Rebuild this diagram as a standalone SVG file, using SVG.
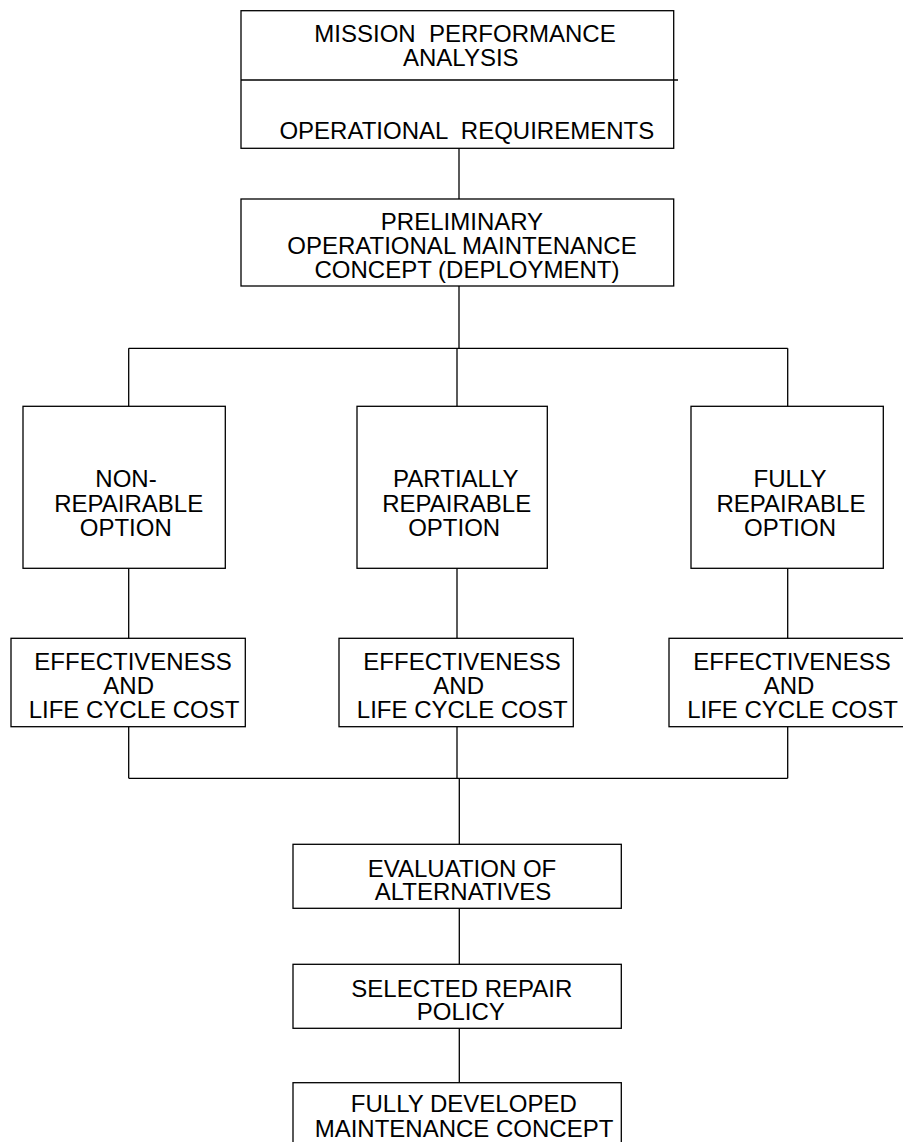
<svg xmlns="http://www.w3.org/2000/svg" width="903" height="1142" viewBox="0 0 903 1142">
<style>
rect.box{fill:#fff;stroke:#000;stroke-width:1.3}
.conn line{stroke:#000;stroke-width:1.3}
text{font-family:"Liberation Sans",Arial,sans-serif;font-size:24px;fill:#000;text-anchor:middle}
</style>
<rect width="903" height="1142" fill="#fff"/>
<g class="conn" id="connectors">
<line x1="459" y1="148.3" x2="459" y2="199"/>
<line x1="459" y1="286" x2="459" y2="348.3"/>
<line x1="128.7" y1="348.3" x2="787.7" y2="348.3"/>
<line x1="128.7" y1="348.3" x2="128.7" y2="406.3"/>
<line x1="457" y1="348.3" x2="457" y2="406.3"/>
<line x1="787.7" y1="348.3" x2="787.7" y2="406.3"/>
<line x1="128.7" y1="568.3" x2="128.7" y2="638.3"/>
<line x1="457" y1="568.3" x2="457" y2="638.3"/>
<line x1="787.7" y1="568.3" x2="787.7" y2="638.3"/>
<line x1="128.7" y1="726.7" x2="128.7" y2="778.3"/>
<line x1="457" y1="726.7" x2="457" y2="778.3"/>
<line x1="787.7" y1="726.7" x2="787.7" y2="778.3"/>
<line x1="128.7" y1="778.3" x2="787.7" y2="778.3"/>
<line x1="459.3" y1="778.3" x2="459.3" y2="844.3"/>
<line x1="459.3" y1="908.3" x2="459.3" y2="964.3"/>
<line x1="459.3" y1="1028.3" x2="459.3" y2="1082.7"/>
</g>
<g id="mission">
<rect class="box" x="241" y="10.7" width="432.7" height="137.6"/>
<line x1="241" y1="80" x2="678" y2="80" stroke="#000" stroke-width="1.3"/>
<text x="465" y="41.7" xml:space="preserve">MISSION  PERFORMANCE</text>
<text x="460.8" y="65.7">ANALYSIS</text>
<text x="466.8" y="139.3" xml:space="preserve">OPERATIONAL  REQUIREMENTS</text>
</g>
<g id="preliminary">
<rect class="box" x="241" y="199" width="432.7" height="87"/>
<text x="462" y="230">PRELIMINARY</text>
<text x="462" y="254">OPERATIONAL MAINTENANCE</text>
<text x="467" y="277.7">CONCEPT (DEPLOYMENT)</text>
</g>
<g id="opt-non">
<rect class="box" x="23" y="406.3" width="202.3" height="162"/>
<text x="126" y="486.7">NON-</text>
<text x="128.7" y="512.3">REPAIRABLE</text>
<text x="125.8" y="536">OPTION</text>
</g>
<g id="opt-partial">
<rect class="box" x="357" y="406.3" width="190.3" height="162"/>
<text x="455.8" y="486.7">PARTIALLY</text>
<text x="456.7" y="512.3">REPAIRABLE</text>
<text x="454.2" y="536">OPTION</text>
</g>
<g id="opt-full">
<rect class="box" x="691" y="406.3" width="192.3" height="162"/>
<text x="790" y="486.7">FULLY</text>
<text x="791" y="512.3">REPAIRABLE</text>
<text x="790" y="536">OPTION</text>
</g>
<g id="eff-non">
<rect class="box" x="11" y="638.3" width="234.3" height="88.4"/>
<text x="133" y="670">EFFECTIVENESS</text>
<text x="128.7" y="694">AND</text>
<text x="134" y="718.3">LIFE CYCLE COST</text>
</g>
<g id="eff-partial">
<rect class="box" x="339" y="638.3" width="234.3" height="88.4"/>
<text x="462" y="670">EFFECTIVENESS</text>
<text x="458.7" y="694">AND</text>
<text x="462.2" y="718.3">LIFE CYCLE COST</text>
</g>
<g id="eff-full">
<rect class="box" x="669" y="638.3" width="240" height="88.4"/>
<text x="792" y="670">EFFECTIVENESS</text>
<text x="789" y="694">AND</text>
<text x="792.5" y="718.3">LIFE CYCLE COST</text>
</g>
<g id="evaluation">
<rect class="box" x="293" y="844.3" width="328.3" height="64"/>
<text x="462" y="876.7">EVALUATION OF</text>
<text x="463" y="900">ALTERNATIVES</text>
</g>
<g id="selected">
<rect class="box" x="293" y="964.3" width="328.3" height="64"/>
<text x="461.8" y="996.7">SELECTED REPAIR</text>
<text x="460.8" y="1020">POLICY</text>
</g>
<g id="developed">
<rect class="box" x="293" y="1082.7" width="328.3" height="100"/>
<text x="463.8" y="1112.3">FULLY DEVELOPED</text>
<text x="464" y="1136.7">MAINTENANCE CONCEPT</text>
</g>
</svg>
